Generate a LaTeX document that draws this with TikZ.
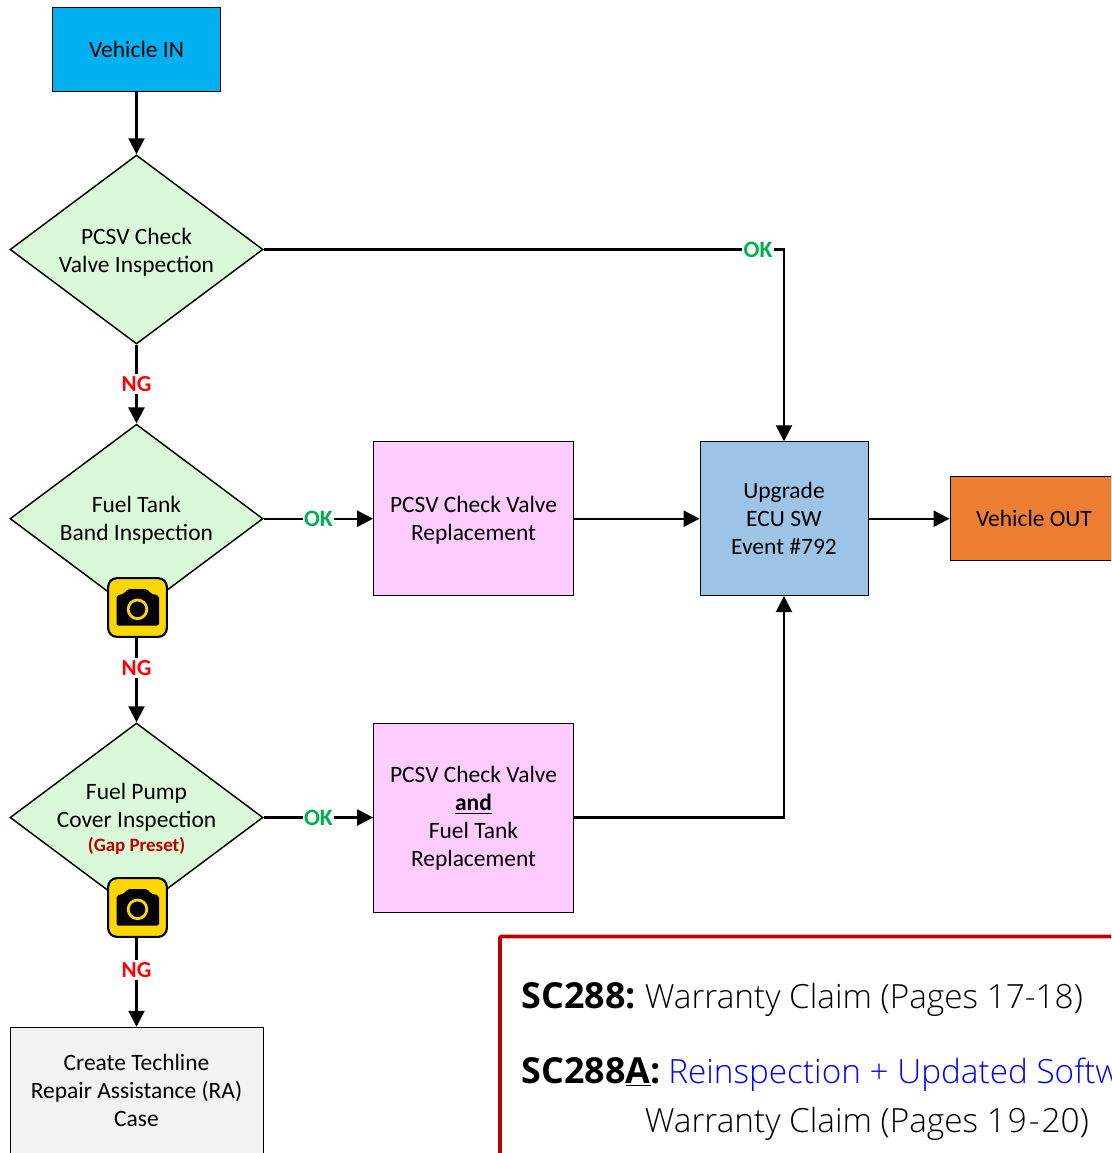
\documentclass[tikz,border=0pt]{standalone}
\usepackage{fontspec}
\setmainfont{Carlito}
\newfontfamily\notefont{Open Sans Light}
\newfontfamily\noteboldfont{Open Sans}
\usetikzlibrary{shapes.geometric,arrows.meta}
\definecolor{dgreen}{HTML}{DAF9D8}
\definecolor{pinkb}{HTML}{FFCCFF}
\definecolor{blueb}{HTML}{9DC3E6}
\definecolor{orangeb}{HTML}{ED7D31}
\definecolor{greyb}{HTML}{F2F2F2}
\definecolor{cyanb}{HTML}{00B0F0}
\definecolor{okgreen}{HTML}{00B050}
\definecolor{camyellow}{HTML}{FFD700}
\definecolor{darkred}{HTML}{C00000}
\newcommand{\lowerby}[1]{\rule{0pt}{#1}}
\tikzset{
  x=0.75pt,y=-0.75pt,
  flowtext/.style={font=\fontsize{17.6}{21}\selectfont,align=center,text=black,inner sep=0pt},
  boxnode/.style={flowtext,draw=black,line width=0.6pt},
  decision/.style={flowtext,diamond,draw=black,line width=1.1pt,fill=dgreen,minimum width=189.75pt,minimum height=141.75pt,aspect=1.33},
  link/.style={line width=1.8pt,-{Triangle[length=12pt,width=12pt]}},
  oklabel/.style={font=\fontsize{17.6}{18}\selectfont\bfseries,text=okgreen,fill=white,inner sep=1pt},
  nglabel/.style={font=\fontsize{17.2}{18}\selectfont\bfseries,text=red,fill=white,inner sep=2pt},
  camnode/.style={draw=black,line width=1.6pt,fill=camyellow,rounded corners=6.5pt,minimum width=44pt,minimum height=44pt,inner sep=0pt},
  notetext/.style={font=\notefont\fontsize{25}{30}\selectfont,anchor=base west,inner sep=0pt},
  notebold/.style={font=\noteboldfont\fontsize{26.9}{30}\selectfont\bfseries,anchor=base west,inner sep=0pt},
  camglyph/.pic={
    \fill[black,rounded corners=1.5pt] (-21,18) -- (-21,-12) -- (-13,-14) -- (-10,-18.5) -- (10,-18.5) -- (13,-14) -- (21.5,-12) -- (21.5,18) -- cycle;
    \draw[camyellow,line width=2.1pt] (0,1.8) circle (7pt);
  }
}
\begin{document}
\begin{tikzpicture}
\useasboundingbox (0,0) rectangle (1111,1153);
\clip (0,0) rectangle (1111,1153);
\node[boxnode,fill=cyanb,minimum width=126pt,minimum height=63pt] (vin) at (136.5,49.8) {Vehicle IN};
\node[decision] (d1) at (136.5,249.5) {\lowerby{16pt}PCSV Check\\Valve Inspection};
\node[decision] (d2) at (136.5,518.7) {\lowerby{14pt}Fuel Tank\\Band Inspection};
\node[decision,inner sep=-12pt] (d3) at (136.5,817.5) {\lowerby{14pt}Fuel Pump\\Cover Inspection\\[-3pt]{\fontsize{14.2}{14}\selectfont\bfseries\textcolor{darkred}{(Gap Preset)}}};
\node[boxnode,fill=pinkb,minimum width=150pt,minimum height=115.5pt] (r1) at (473.5,518.7) {\lowerby{14pt}PCSV Check Valve\\Replacement};
\node[boxnode,fill=pinkb,minimum width=150pt,minimum height=141.75pt] (r2) at (473.5,817.5) {\lowerby{14pt}PCSV Check Valve\\\textbf{\underline{and}}\\Fuel Tank\\Replacement};
\node[boxnode,fill=blueb,minimum width=126pt,minimum height=115.5pt] (up) at (784,518.7) {Upgrade\\ECU SW\\Event \#792};
\node[boxnode,fill=orangeb,minimum width=126pt,minimum height=63pt] (vout) at (1034,518.7) {Vehicle OUT};
\node[boxnode,fill=greyb,minimum width=189.75pt,minimum height=95pt] (ra) at (136.5,1090.5) {Create Techline\\Repair Assistance (RA)\\Case};

\draw[link] (vin) -- (d1);
\draw[link] (d1) -- node[nglabel] {NG} (d2);
\draw[link] (d2) -- node[nglabel] {NG} (d3);
\draw[link] (d3) -- node[nglabel] {NG} (ra);
\draw[link] (d1.east) -| node[oklabel,pos=0.475] {OK} (up.north);
\draw[link] (d2.east) -- node[oklabel] {OK} (r1.west);
\draw[link] (d3.east) -- node[oklabel] {OK} (r2.west);
\draw[link] (r1) -- (up);
\draw[link] (r2.east) -| (up.south);
\draw[link] (up) -- (vout);

\node[camnode] (c1) at (137.5,607.5) {};
\pic at (c1.center) {camglyph};
\node[camnode] (c2) at (137.5,907.5) {};
\pic at (c2.center) {camglyph};

\draw[darkred,line width=2.8pt,rounded corners=1pt] (500,1180) -- (500,936.5) -- (1140,936.5);
\node[notebold] (n1) at (521.5,1008) {SC288:};
\node[notetext] (n2) at (644.5,1008) {Warranty Claim (Pages 17-18)};
\node[notebold] (n3) at (521.5,1083) {SC288\underline{A}:};
\node[notetext,text=blue] (n4) at (668,1083) {Reinspection + Updated Software};
\node[notetext] (n5) at (644.5,1132) {Warranty Claim (Pages 1\kern1.5pt 9\kern1.5pt-\kern1.5pt 20)};
\end{tikzpicture}
\end{document}
